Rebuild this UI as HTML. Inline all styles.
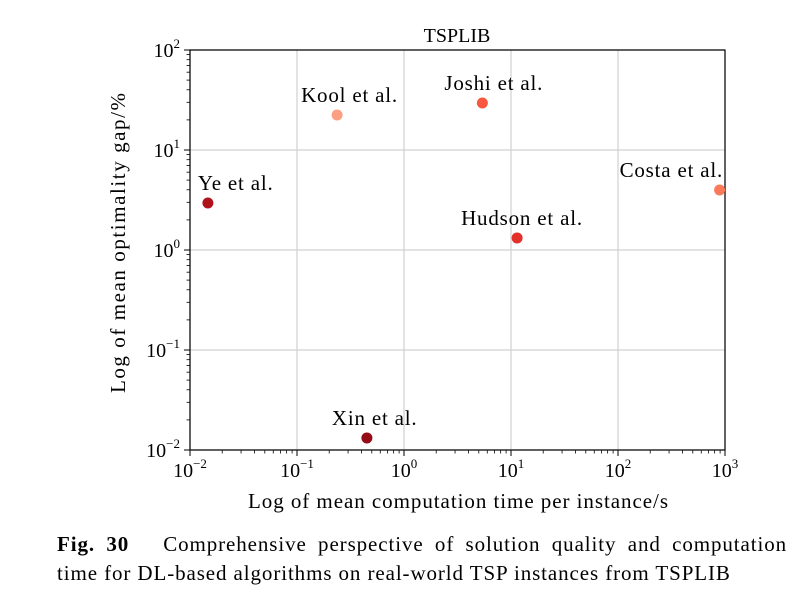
<!DOCTYPE html>
<html><head><meta charset="utf-8"><style>
body{margin:0;background:#fff;width:796px;height:602px;overflow:hidden;font-family:"Liberation Serif",serif}
svg text{font-family:"Liberation Serif",serif;fill:#000}
#cap{position:absolute;left:57px;top:530px;width:730px;font-size:21px;line-height:29px;letter-spacing:0.9px}
#cap div{white-space:nowrap}
#cap .l1{text-align:justify;text-align-last:justify;white-space:normal}
</style></head><body>
<svg id="chart" width="796" height="530" style="position:absolute;left:0;top:0"></svg>
<div id="cap"><div class="l1"><b>Fig.&nbsp;30</b>&nbsp;&nbsp; Comprehensive perspective of solution quality and computation</div><div>time for DL-based algorithms on real-world TSP instances from TSPLIB</div></div>
<script>
const labels=["Ye et al.","Kool et al.","Joshi et al.","Hudson et al.","Costa et al.","Xin et al."];
const times=[0.0147,0.237,5.4,11.4,890,0.45];
const gaps=[2.95,22.4,29.5,1.32,3.98,0.0132];
const colors=["#b0121b","#fca083","#f9573f","#e4302a","#fb7a5a","#950b16"];
const labelDx=[-10,-36,-38,-56,-100,-35];
const xTickExp=[-2,-1,0,1,2,3];
const yTickExp=[-2,-1,0,1,2];
const L=190,R=725,T=50,B=450;
const xs=v=>L+(Math.log10(v)+2)/5*(R-L);
const ys=v=>B-(Math.log10(v)+2)/4*(B-T);
const svg=document.getElementById('chart');
const NS="http://www.w3.org/2000/svg";
function mk(t,a,p){const e=document.createElementNS(NS,t);for(const k in a)e.setAttribute(k,a[k]);(p||svg).appendChild(e);return e;}
xTickExp.forEach(e=>{const x=xs(Math.pow(10,e));
const g=mk('line',{x1:x,x2:x,y1:T,y2:B,stroke:'#d0d0d0','stroke-width':1.2});


const tk=mk('line',{x1:x,x2:x,y1:B,y2:B+6,stroke:'#000','stroke-width':1});


const t=mk('text',{x:x,y:B+27,'font-size':20,'text-anchor':'middle'});
t.innerHTML='10<tspan dy="-9" font-size="13">'+(e<0?'\u2212'+(-e):e)+'</tspan>';


if(e<3)for(let m=2;m<10;m++){const xm=xs(m*Math.pow(10,e));mk('line',{x1:xm,x2:xm,y1:B,y2:B+3.5,stroke:'#000','stroke-width':0.8});}
});
yTickExp.forEach(e=>{const y=ys(Math.pow(10,e));
const g=mk('line',{x1:L,x2:R,y1:y,y2:y,stroke:'#d0d0d0','stroke-width':1.2});


mk('line',{x1:L-6,x2:L,y1:y,y2:y,stroke:'#000','stroke-width':1});
const t=mk('text',{x:L-10,y:y+7,'font-size':20,'text-anchor':'end'});
t.innerHTML='10<tspan dy="-9" font-size="13">'+(e<0?'\u2212'+(-e):e)+'</tspan>';


if(e<2)for(let m=2;m<10;m++){const ym=ys(m*Math.pow(10,e));mk('line',{x1:L-3.5,x2:L,y1:ym,y2:ym,stroke:'#000','stroke-width':0.8});}
});
const fr=mk('rect',{x:L,y:T,width:R-L,height:B-T,fill:'none',stroke:'#000','stroke-width':1.2});


labels.forEach((n,i)=>{const cx=xs(times[i]),cy=ys(gaps[i]);
const c=mk('circle',{cx:cx,cy:cy,r:5.5,fill:colors[i]});


const t=mk('text',{x:cx+labelDx[i],y:cy-13,'font-size':21,'letter-spacing':0.8});
t.textContent=n;


});
const ti=mk('text',{x:457,y:42,'font-size':20,'text-anchor':'middle'});ti.textContent='TSPLIB';


const xl=mk('text',{x:248,y:508,'font-size':21,textLength:420,lengthAdjust:'spacing'});xl.textContent='Log of mean computation time per instance/s';


const yl=mk('text',{x:0,y:0,'font-size':21,textLength:300,lengthAdjust:'spacing',transform:'translate(125,393) rotate(-90)'});yl.textContent='Log of mean optimality gap/%';


</script>
</body></html>
